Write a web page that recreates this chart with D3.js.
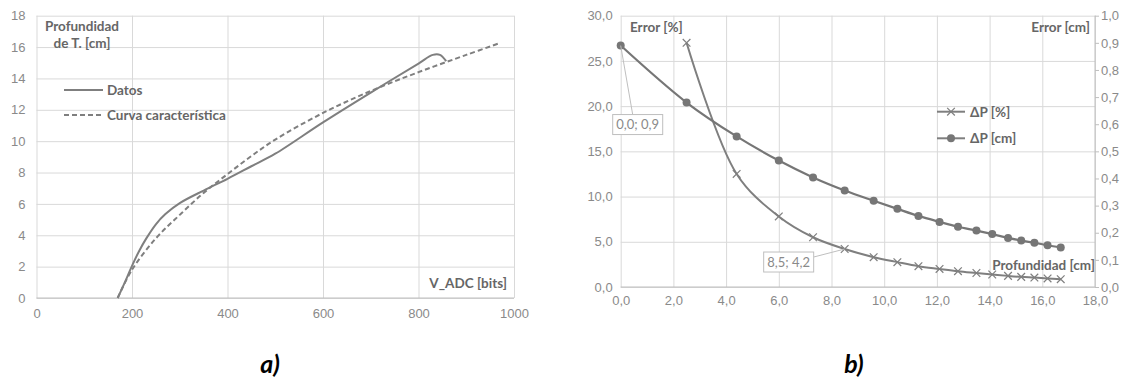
<!DOCTYPE html>
<html>
<head>
<meta charset="utf-8">
<script src="https://cdn.jsdelivr.net/npm/d3@7"></script>
<style>
  body { margin: 0; background: #fff; }
  svg { display: block; font-family: Lato, "Open Sans", sans-serif; }
</style>
</head>
<body>
<svg id="chart" width="1125" height="377"></svg>
<script>
// chart a) - sensor curve
const datosVadc = [170, 185, 200, 215, 230, 250, 270, 300, 350, 400, 450, 500, 600, 700, 800, 830, 845, 858];
const datosProf = [0, 1.0, 2.05, 3.0, 3.8, 4.7, 5.35, 6.05, 6.85, 7.6, 8.4, 9.2, 11.2, 13.1, 14.95, 15.5, 15.5, 15.1];
const curvaVadc = [170, 200, 250, 300, 350, 400, 450, 500, 600, 700, 800, 900, 970];
const curvaProf = [0, 1.8, 3.8, 5.3, 6.7, 7.9, 9.05, 10.1, 11.8, 13.2, 14.4, 15.5, 16.25];
const xTicksA = [0, 200, 400, 600, 800, 1000];
const yTicksA = [0, 2, 4, 6, 8, 10, 12, 14, 16, 18];

// chart b) - error vs depth
const profCm = [0, 2.5, 4.4, 6.0, 7.3, 8.5, 9.6, 10.5, 11.3, 12.1, 12.8, 13.5, 14.1, 14.7, 15.2, 15.7, 16.2, 16.7];
const errCm = [0.89, 0.68, 0.555, 0.466, 0.404, 0.356, 0.318, 0.288, 0.262, 0.240, 0.222, 0.208, 0.195, 0.181, 0.171, 0.163, 0.154, 0.146];
const profPct = [2.5, 4.4, 6.0, 7.3, 8.5, 9.6, 10.5, 11.3, 12.1, 12.8, 13.5, 14.1, 14.7, 15.2, 15.7, 16.2, 16.7];
const errPct = [27.0, 12.5, 7.8, 5.5, 4.2, 3.3, 2.75, 2.3, 2.0, 1.75, 1.55, 1.38, 1.23, 1.12, 1.04, 0.95, 0.87];
const xTicksB = [0, 2, 4, 6, 8, 10, 12, 14, 16, 18];
const yTicksB = [0, 5, 10, 15, 20, 25, 30];
const yTicksB2 = [0, 0.1, 0.2, 0.3, 0.4, 0.5, 0.6, 0.7, 0.8, 0.9, 1.0];

const grid = "#d9d9d9", axisCol = "#bfbfbf", tickCol = "#8a8a8a", titleCol = "#666", lineCol = "#7f7f7f";
const es = d3.formatLocale({decimal: ",", thousands: ".", grouping: [3], currency: ["", "€"]});
const f1 = es.format(".1f");
const boldSize = "13.5px", tickSize = "13px";

const svg = d3.select("#chart");

function styleAxis(g, withLines) {
  g.select(".domain").remove();
  g.selectAll(".tick line").attr("stroke", withLines ? grid : "none");
  g.selectAll(".tick text").attr("fill", tickCol).style("font-size", tickSize);
}

// ---------- a) ----------
const xA = d3.scaleLinear().domain([0, 1000]).range([36.5, 514]);
const yA = d3.scaleLinear().domain([0, 18]).range([298, 15.7]);

svg.append("g")
  .attr("transform", `translate(0,${yA(0)})`)
  .call(d3.axisBottom(xA).tickValues(xTicksA).tickFormat(d3.format("d"))
    .tickSize(-(yA(0) - yA(18))).tickPadding(11))
  .call(g => styleAxis(g, true));
svg.append("g")
  .attr("transform", `translate(${xA(0)},0)`)
  .call(d3.axisLeft(yA).tickValues(yTicksA).tickSize(-(xA(1000) - xA(0))).tickPadding(11))
  .call(g => styleAxis(g, true));
svg.append("line")
  .attr("x1", xA(0)).attr("x2", xA(1000)).attr("y1", yA(0)).attr("y2", yA(0))
  .attr("stroke", axisCol);

const lineA = d3.line().x(d => xA(d[0])).y(d => yA(d[1])).curve(d3.curveCatmullRom.alpha(0.5));
svg.append("path")
  .datum(curvaVadc.map((v, i) => [v, curvaProf[i]]))
  .attr("d", lineA).attr("fill", "none").attr("stroke", lineCol)
  .attr("stroke-width", 2).attr("stroke-dasharray", "5,3");
svg.append("path")
  .datum(datosVadc.map((v, i) => [v, datosProf[i]]))
  .attr("d", lineA).attr("fill", "none").attr("stroke", lineCol).attr("stroke-width", 2);

const titleA = svg.append("text").attr("fill", titleCol).attr("font-weight", "bold")
  .style("font-size", boldSize).attr("text-anchor", "middle");
titleA.append("tspan").attr("x", 82).attr("y", 31).text("Profundidad");
titleA.append("tspan").attr("x", 82).attr("y", 48).text("de T. [cm]");

svg.append("text").attr("x", 507).attr("y", 288).attr("text-anchor", "end")
  .attr("fill", titleCol).attr("font-weight", "bold").style("font-size", boldSize)
  .text("V_ADC [bits]");

const legA = [["Datos", null, 90], ["Curva característica", "5,3", 115]];
legA.forEach(([name, dash, y]) => {
  svg.append("line").attr("x1", 64).attr("x2", 103).attr("y1", y).attr("y2", y)
    .attr("stroke", lineCol).attr("stroke-width", 2).attr("stroke-dasharray", dash);
  svg.append("text").attr("x", 107).attr("y", y + 5).attr("fill", titleCol)
    .attr("font-weight", "bold").style("font-size", boldSize).text(name);
});

// ---------- b) ----------
const xB = d3.scaleLinear().domain([0, 18]).range([620.7, 1095]);
const yB = d3.scaleLinear().domain([0, 30]).range([287, 15.7]);
const yB2 = d3.scaleLinear().domain([0, 1]).range([287, 15.7]);

svg.append("g")
  .attr("transform", `translate(0,${yB(0)})`)
  .call(d3.axisBottom(xB).tickValues(xTicksB).tickFormat(f1).tickSize(-(yB(0) - yB(30))).tickPadding(9))
  .call(g => styleAxis(g, true));
svg.append("g")
  .attr("transform", `translate(${xB(0)},0)`)
  .call(d3.axisLeft(yB).tickValues(yTicksB).tickFormat(f1).tickSize(-(xB(18) - xB(0))).tickPadding(8))
  .call(g => styleAxis(g, true));
svg.append("g")
  .attr("transform", `translate(${xB(18)},0)`)
  .call(d3.axisRight(yB2).tickValues(yTicksB2).tickFormat(f1).tickSize(4).tickPadding(2))
  .call(g => {
    styleAxis(g, false);
    g.selectAll(".tick line").attr("stroke", axisCol);
  });
svg.append("line")
  .attr("x1", xB(0)).attr("x2", xB(18)).attr("y1", yB(0)).attr("y2", yB(0))
  .attr("stroke", axisCol);
svg.append("line")
  .attr("x1", xB(18)).attr("x2", xB(18)).attr("y1", yB(0)).attr("y2", yB(30))
  .attr("stroke", axisCol);

const cmPts = profCm.map((p, i) => [xB(p), yB2(errCm[i])]);
const pctPts = profPct.map((p, i) => [xB(p), yB(errPct[i])]);
const lineB = d3.line().curve(d3.curveCatmullRom.alpha(0.5));

svg.append("path").attr("d", lineB(pctPts)).attr("fill", "none")
  .attr("stroke", lineCol).attr("stroke-width", 2);
svg.append("path").attr("d", lineB(cmPts)).attr("fill", "none")
  .attr("stroke", "#767676").attr("stroke-width", 2.2);

const cross = d3.symbol().type(d3.symbolX).size(40);
svg.append("g").selectAll("path").data(pctPts).join("path")
  .attr("transform", d => `translate(${d[0]},${d[1]})`)
  .attr("d", cross).attr("fill", "none").attr("stroke", lineCol).attr("stroke-width", 1.2);
svg.append("g").selectAll("circle").data(cmPts).join("circle")
  .attr("cx", d => d[0]).attr("cy", d => d[1]).attr("r", 4)
  .attr("fill", "#767676");

svg.append("text").attr("x", 630).attr("y", 32).attr("fill", titleCol)
  .attr("font-weight", "bold").style("font-size", boldSize).text("Error [%]");
svg.append("text").attr("x", 1090).attr("y", 32).attr("text-anchor", "end").attr("fill", titleCol)
  .attr("font-weight", "bold").style("font-size", boldSize).text("Error [cm]");
svg.append("text").attr("x", 1095).attr("y", 270).attr("text-anchor", "end").attr("fill", titleCol)
  .attr("font-weight", "bold").style("font-size", boldSize).text("Profundidad [cm]");

// legend b
const legB = [["ΔP [%]", "x", 111.7], ["ΔP [cm]", "o", 138.3]];
legB.forEach(([name, mk, y]) => {
  svg.append("line").attr("x1", 937).attr("x2", 965).attr("y1", y).attr("y2", y)
    .attr("stroke", lineCol).attr("stroke-width", 2);
  if (mk === "x") {
    svg.append("path").attr("transform", `translate(951,${y})`).attr("d", cross)
      .attr("fill", "none").attr("stroke", lineCol).attr("stroke-width", 1.2);
  } else {
    svg.append("circle").attr("cx", 951).attr("cy", y).attr("r", 4).attr("fill", "#767676");
  }
  svg.append("text").attr("x", 970).attr("y", y + 5).attr("fill", titleCol)
    .attr("font-weight", "bold").style("font-size", boldSize).text(name);
});

// data labels
function dataLabel(px, py, bx, by, text, lx, ly) {
  svg.append("line").attr("x1", px).attr("y1", py).attr("x2", lx).attr("y2", ly)
    .attr("stroke", axisCol).attr("stroke-width", 1);
  svg.append("rect").attr("x", bx).attr("y", by).attr("width", 50).attr("height", 20)
    .attr("fill", "#fff").attr("stroke", axisCol);
  svg.append("text").attr("x", bx + 25).attr("y", by + 14.5).attr("text-anchor", "middle")
    .attr("fill", tickCol).style("font-size", tickSize).text(text);
}
const p0 = [xB(profCm[0]), yB2(errCm[0])];
dataLabel(p0[0], p0[1], p0[0] - 8, p0[1] + 69, f1(profCm[0]) + "; " + f1(errCm[0]), p0[0] + 12, p0[1] + 69);
const p5 = [xB(profPct[4]), yB(errPct[4])];
dataLabel(p5[0], p5[1], p5[0] - 81, p5[1] + 3, f1(profPct[4]) + "; " + f1(errPct[4]), p5[0] - 31, p5[1] + 8);

// panel letters
[["a)", 270], ["b)", 854]].forEach(([t, x]) => {
  svg.append("text").attr("x", x).attr("y", 373).attr("text-anchor", "middle")
    .attr("font-weight", "bold").attr("font-style", "italic").style("font-size", "25px")
    .attr("fill", "#000").text(t);
});
</script>
</body>
</html>
